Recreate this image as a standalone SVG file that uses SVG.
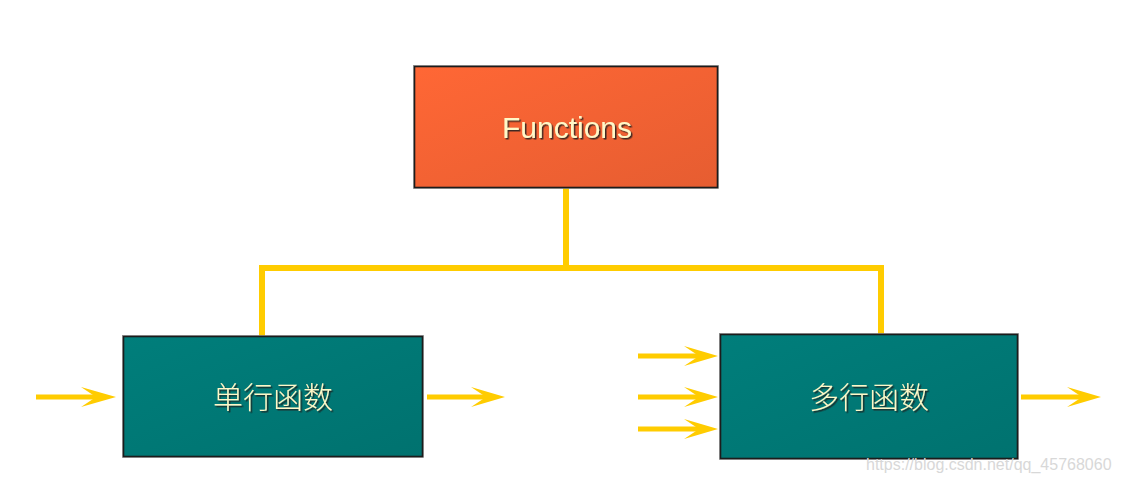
<svg xmlns="http://www.w3.org/2000/svg" width="1121" height="483" viewBox="0 0 1121 483">
  <defs>
    <linearGradient id="gOrange" x1="0" y1="0" x2="1" y2="1">
      <stop offset="0" stop-color="#FF6735"/>
      <stop offset="1" stop-color="#E65D31"/>
    </linearGradient>
    <linearGradient id="gTeal" x1="0" y1="0" x2="1" y2="1">
      <stop offset="0" stop-color="#007E7B"/>
      <stop offset="1" stop-color="#00726F"/>
    </linearGradient>
    <filter id="shadow" x="-10%" y="-20%" width="130%" height="150%">
      <feDropShadow dx="1.5" dy="1.5" stdDeviation="0.6" flood-color="#1a1a1a" flood-opacity="0.85"/>
    </filter>
  </defs>
  <style>
    .box { stroke: #1c1c1c; stroke-width: 1.6; }
    .edge { stroke: #9a9a9a; stroke-width: 0.8; fill: none; }
    .lbl-en { font-family: "Liberation Sans", Arial, sans-serif; font-size: 30px; fill: #FFF8C8; text-anchor: middle; filter: url(#shadow); }
    .lbl-cn { font-family: "Noto Sans CJK SC", sans-serif; font-weight: 300; font-size: 30px; fill: #FFF8C8; text-anchor: middle; filter: url(#shadow); }
    .line { stroke: #FFCC00; stroke-width: 6; fill: none; }
    .shaft { stroke: #FFCC00; stroke-width: 5; fill: none; }
    .head { fill: #FFCC00; }
    .wm { font-family: "Liberation Sans", Arial, sans-serif; font-size: 16px; fill: #D8D8D8; }
  </style>

  <g id="connectors">
    <path class="line" d="M566 188 V268 M262 336 V268 H881 V334"/>
    <path class="shaft" d="M36 397 H104"/>
    <path class="head" d="M81 387 L116 397 L81 407 L96 397 Z"/>
    <path class="shaft" d="M427 397 H492"/>
    <path class="head" d="M471 387 L505 397 L471 407 L486 397 Z"/>
    <path class="shaft" d="M638 356 H705"/>
    <path class="head" d="M684 346 L718 356 L684 366 L699 356 Z"/>
    <path class="shaft" d="M638 397 H705"/>
    <path class="head" d="M684 387 L718 397 L684 407 L699 397 Z"/>
    <path class="shaft" d="M638 429 H705"/>
    <path class="head" d="M684 419 L718 429 L684 439 L699 429 Z"/>
    <path class="shaft" d="M1021 397 H1088"/>
    <path class="head" d="M1067 387 L1101 397 L1067 407 L1082 397 Z"/>
  </g>

  <g id="node-functions">
    <rect x="413.5" y="65.5" width="305" height="123" class="edge"/>
    <rect x="414.5" y="66.5" width="303" height="121" class="box" fill="url(#gOrange)"/>
    <text x="567" y="138" class="lbl-en">Functions</text>
  </g>

  <g id="node-single">
    <rect x="122.5" y="335.5" width="301" height="122" class="edge"/>
    <rect x="123.5" y="336.5" width="299" height="120" class="box" fill="url(#gTeal)"/>
    <text x="273" y="408" class="lbl-cn">单行函数</text>
  </g>

  <g id="node-multi">
    <rect x="719.5" y="333.5" width="299" height="126" class="edge"/>
    <rect x="720.5" y="334.5" width="297" height="124" class="box" fill="url(#gTeal)"/>
    <text x="869" y="408" class="lbl-cn">多行函数</text>
  </g>

  <text x="866" y="470" class="wm">https://blog.csdn.net/qq_45768060</text>
</svg>
